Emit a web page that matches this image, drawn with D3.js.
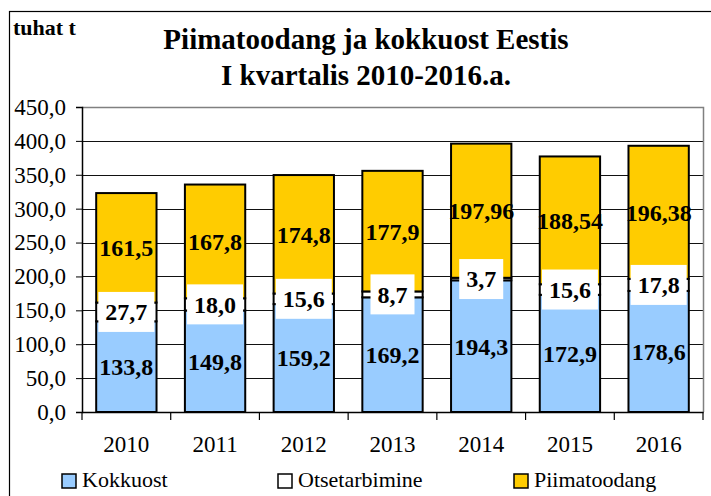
<!DOCTYPE html>
<html>
<head>
<meta charset="utf-8">
<script src="https://cdn.jsdelivr.net/npm/d3@7.9.0/dist/d3.min.js"></script>
<style>
  body { margin: 0; background: #fff; }
  svg { display: block; font-family: "Liberation Serif", "Times New Roman", serif; }
</style>
</head>
<body>
<svg id="chart" width="711" height="496"></svg>
<script>
const years = ['2010', '2011', '2012', '2013', '2014', '2015', '2016'];
const kokkuost = [133.8, 149.8, 159.2, 169.2, 194.3, 172.9, 178.6];
const otsetarbimine = [27.7, 18.0, 15.6, 8.7, 3.7, 15.6, 17.8];
const piimatoodang = [161.5, 167.8, 174.8, 177.9, 197.96, 188.54, 196.38];
const piimaLabels = ['161,5', '167,8', '174,8', '177,9', '197,96', '188,54', '196,38'];
const seriesNames = ['Kokkuost', 'Otsetarbimine', 'Piimatoodang'];
const seriesColors = ['#99ccff', '#ffffff', '#ffcc00'];
const yTicks = [0, 50, 100, 150, 200, 250, 300, 350, 400, 450];

const serif = 'Liberation Serif, Times New Roman, serif';
const svg = d3.select('#chart');
const plotL = 82, plotR = 703, plotT = 107, plotB = 412;

// outer frame
svg.append('rect')
  .attr('x', 9.5).attr('y', 11.5)
  .attr('width', 720).attr('height', 520)
  .attr('fill', 'none').attr('stroke', '#000').attr('stroke-width', 1.2);

svg.append('text')
  .attr('x', 13).attr('y', 35)
  .attr('font-size', 22).attr('font-weight', 'bold')
  .text('tuhat t');

const title = svg.append('text')
  .attr('text-anchor', 'middle')
  .attr('font-size', 29).attr('font-weight', 'bold');
title.append('tspan').attr('x', 366).attr('y', 49).text('Piimatoodang ja kokkuost Eestis');
title.append('tspan').attr('x', 366).attr('y', 85).text('I kvartalis 2010-2016.a.');

const x = d3.scaleBand()
  .domain(years)
  .range([plotL, plotR])
  .paddingInner(0.32)
  .paddingOuter(0.16);

const y = d3.scaleLinear().domain([0, 450]).range([plotB, plotT]);

// gridlines
svg.append('g')
  .selectAll('line')
  .data(yTicks.filter(d => d > 0 && d < 450))
  .join('line')
  .attr('x1', plotL).attr('x2', plotR)
  .attr('y1', d => Math.round(y(d)) + 0.5).attr('y2', d => Math.round(y(d)) + 0.5)
  .attr('stroke', '#111').attr('stroke-width', 1);

// plot border (top + right)
svg.append('path')
  .attr('d', `M${plotL},${plotT + 0.5}H${plotR + 0.5}V${plotB}`)
  .attr('fill', 'none').attr('stroke', '#808080').attr('stroke-width', 1.5);

// y axis
const yAxis = svg.append('g')
  .attr('transform', `translate(${plotL},0)`)
  .call(d3.axisLeft(y).tickValues(yTicks).tickSize(6).tickPadding(10)
    .tickFormat(d => d3.format('.1f')(d).replace('.', ',')))
  .attr('font-family', serif);
yAxis.select('.domain').attr('stroke-width', 1.5);
yAxis.selectAll('text').attr('font-size', 23).attr('fill', '#000');

// x axis
const xAxis = svg.append('g')
  .attr('transform', `translate(0,${plotB})`)
  .call(d3.axisBottom(x).tickSize(0).tickPadding(0))
  .attr('font-family', serif);
xAxis.select('.domain').attr('stroke-width', 1.5);
xAxis.selectAll('text')
  .attr('font-size', 23).attr('fill', '#000')
  .attr('dy', null).attr('y', 40);
const step = x.step();
xAxis.selectAll('.sep')
  .data(d3.range(years.length + 1))
  .join('line')
  .attr('x1', i => plotL + i * step).attr('x2', i => plotL + i * step)
  .attr('y1', 0).attr('y2', 8)
  .attr('stroke', '#000').attr('stroke-width', 1.2);

// stacked bars
const rows = years.map((yr, i) => ({
  year: yr,
  Kokkuost: kokkuost[i],
  Otsetarbimine: otsetarbimine[i],
  Piimatoodang: piimatoodang[i]
}));
const stack = d3.stack().keys(seriesNames)(rows);

svg.append('g')
  .selectAll('g')
  .data(stack)
  .join('g')
  .attr('fill', (d, i) => seriesColors[i])
  .selectAll('rect')
  .data(d => d)
  .join('rect')
  .attr('x', d => x(d.data.year))
  .attr('width', x.bandwidth())
  .attr('y', d => y(d[1]))
  .attr('height', d => y(d[0]) - y(d[1]))
  .attr('stroke', '#000').attr('stroke-width', 2);

// labels
const labels = svg.append('g').attr('font-weight', 'bold').attr('font-size', 24)
  .attr('text-anchor', 'middle');

stack.forEach((layer, si) => {
  layer.forEach((d, i) => {
    const cx = x(d.data.year) + x.bandwidth() / 2;
    const cy = y((d[0] + d[1]) / 2);
    let txt;
    if (si === 2) txt = piimaLabels[i];
    else txt = d3.format('.1f')(d[1] - d[0]).replace('.', ',');
    const t = labels.append('text')
      .attr('x', cx).attr('y', cy).attr('dy', '0.35em')
      .text(txt);
    if (si === 1) {
      const w = t.node().getComputedTextLength();
      labels.insert('rect', () => t.node())
        .attr('x', cx - w / 2 - 7).attr('y', cy - 20)
        .attr('width', w + 14).attr('height', 40)
        .attr('fill', '#fff');
    }
  });
});

// legend
const legendX = [62, 278, 514];
const legend = svg.append('g');
seriesNames.forEach((name, i) => {
  legend.append('rect')
    .attr('x', legendX[i]).attr('y', 474)
    .attr('width', 14).attr('height', 14)
    .attr('fill', seriesColors[i]).attr('stroke', '#000').attr('stroke-width', 1.5);
  legend.append('text')
    .attr('x', legendX[i] + 20).attr('y', 487)
    .attr('font-size', 22)
    .text(name);
});
</script>
</body>
</html>
